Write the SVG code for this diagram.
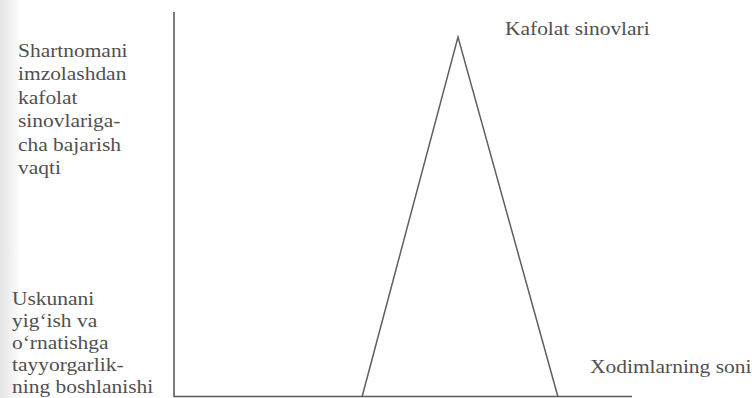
<svg xmlns="http://www.w3.org/2000/svg" width="752" height="398" viewBox="0 0 752 398">
<defs>
<linearGradient id="edge" x1="0" y1="0" x2="1" y2="0">
<stop offset="0" stop-color="#e4e4e4"/>
<stop offset="1" stop-color="#ffffff"/>
</linearGradient>
</defs>
<style>
text{font-family:'Liberation Serif','Times New Roman',serif;font-size:18.5px;fill:#505050}
.ax{stroke:#5a5a5a;stroke-width:1.6;fill:none}
.ln{stroke:#5e5e5e;stroke-width:1.5;fill:none}
</style>
<rect width="752" height="398" fill="#fff"/>
<rect width="22" height="398" fill="url(#edge)"/>
<g id="axes" class="ax">
<line x1="174" y1="12" x2="174" y2="397"/>
<line x1="174" y1="396.5" x2="632" y2="396.5"/>
</g>
<g id="connectors" class="ln">
<polyline points="362,397 458,37 558,397"/>
</g>
<g id="label-top" transform="translate(505,35) scale(1.16,1)">
<text x="0" y="0">Kafolat sinovlari</text>
</g>
<g id="label-right" transform="translate(590,373) scale(1.16,1)">
<text x="0" y="0">Xodimlarning soni</text>
</g>
<g id="label-y-top" transform="translate(18,0) scale(1.16,1)">
<text>
<tspan x="0" y="57">Shartnomani</tspan>
<tspan x="0" y="80.5">imzolashdan</tspan>
<tspan x="0" y="104">kafolat</tspan>
<tspan x="0" y="127.5">sinovlariga-</tspan>
<tspan x="0" y="151">cha bajarish</tspan>
<tspan x="0" y="174.5">vaqti</tspan>
</text>
</g>
<g id="label-y-bottom" transform="translate(12,0) scale(1.16,1)">
<text>
<tspan x="0" y="305">Uskunani</tspan>
<tspan x="0" y="327">yig‘ish va</tspan>
<tspan x="0" y="349">o‘rnatishga</tspan>
<tspan x="0" y="371">tayyorgarlik-</tspan>
<tspan x="0" y="393">ning boshlanishi</tspan>
</text>
</g>
</svg>
